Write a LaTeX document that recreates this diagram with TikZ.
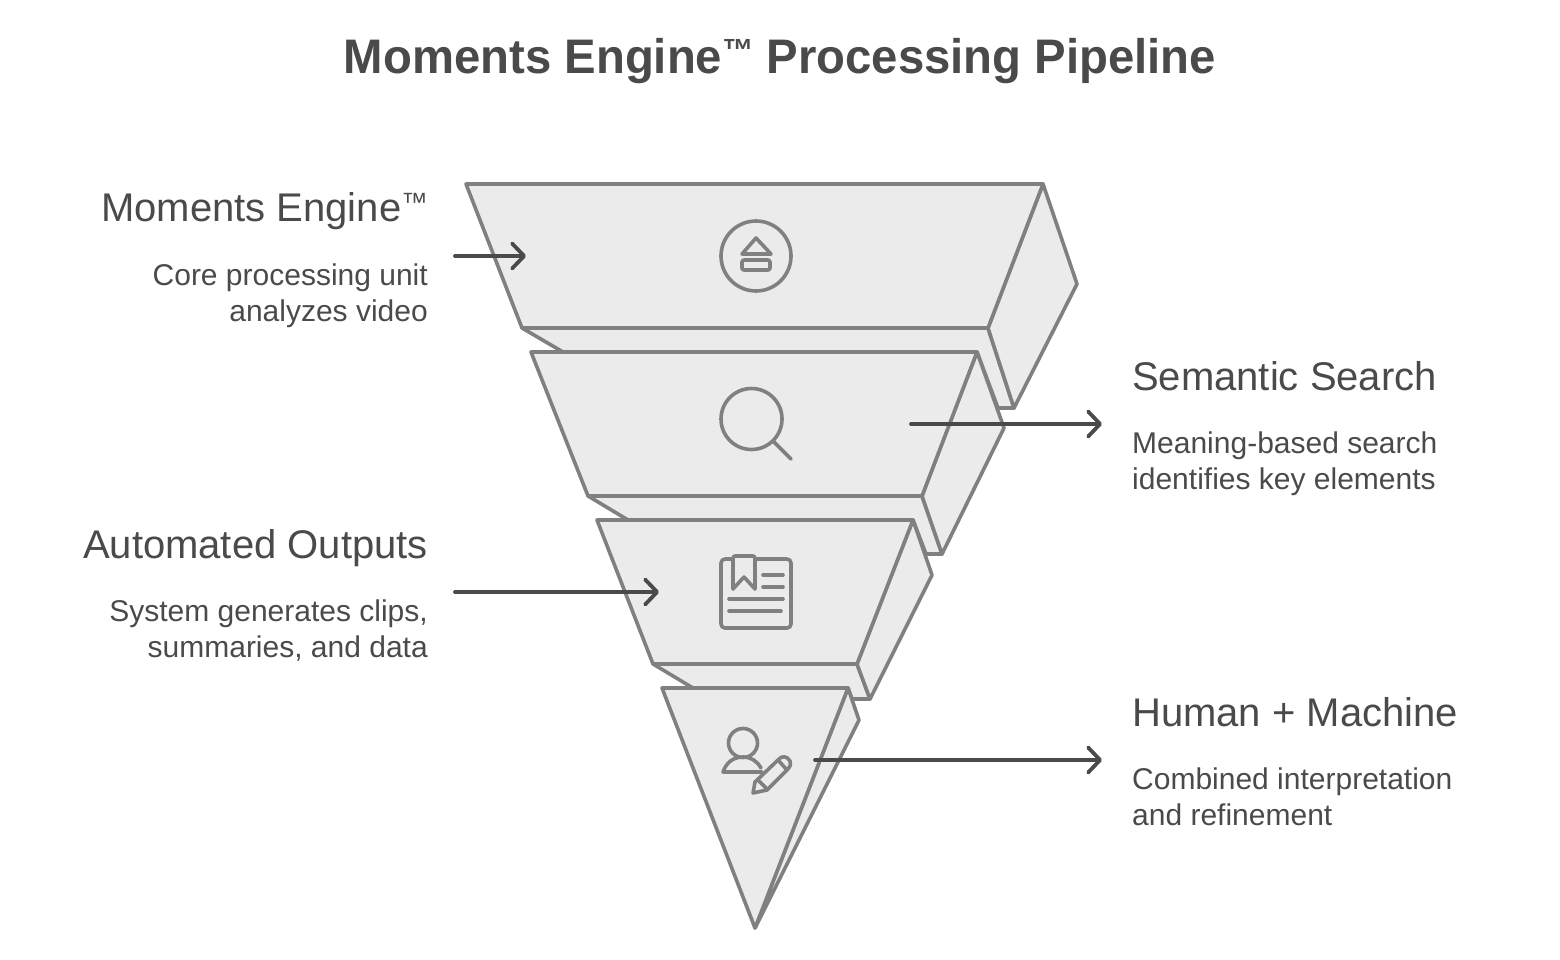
\documentclass[tikz,border=0pt]{standalone}
\usepackage{fontspec}
\setmainfont[BoldFeatures={FakeStretch=0.975}]{Liberation Sans}
\usetikzlibrary{positioning,arrows.meta}
\definecolor{edgegray}{HTML}{808080}
\definecolor{facegray}{HTML}{EBEBEB}
\definecolor{inkgray}{HTML}{4A4A4A}
\newcommand{\tmark}{\raisebox{0.25em}{\scalebox{0.66}{™}}}
\tikzset{band/.style={draw=edgegray,fill=facegray,line width=3.6pt,line join=round},
	icon/.style={draw=edgegray,line width=3.6pt,line cap=round,line join=round},
	pointer/.style={draw=inkgray,line width=3.8pt,line cap=round,
		-{Straight Barb[round,length=12pt,width=25pt]}},
	title text/.style={text=inkgray,inner sep=0pt,font=\bfseries\fontsize{48.5}{56}\selectfont},
	head text/.style={text=inkgray,inner sep=0pt,font=\fontsize{40}{46}\selectfont},
	body text/.style={text=inkgray,inner sep=0pt,font=\fontsize{30}{36}\selectfont},
}

\begin{document}
\begin{tikzpicture}[x=1pt,y=-1pt]
		\useasboundingbox (0,0) rectangle (1560,960);

		% first layer
		\path[band] (522,328) -- (988,328) -- (1014,408) -- (998,408) -- (977,352) -- (563,352) -- cycle;
		\path[band] (1043,184) -- (1077,284) -- (1014,408) -- (988,328) -- cycle;
		\path[band] (466,184) -- (1043,184) -- (988,328) -- (522,328) -- cycle;
		% second layer
		\path[band] (588,496) -- (922,496) -- (942,554) -- (926,554) -- (913,520) -- (628,520) -- cycle;
		\path[band] (977,352) -- (1004,428) -- (942,554) -- (922,496) -- cycle;
		\path[band] (531,352) -- (977,352) -- (922,496) -- (588,496) -- cycle;
		% third layer
		\path[band] (653,664) -- (857,664) -- (870,699) -- (852,699) -- (848,688) -- (693,688) -- cycle;
		\path[band] (913,520) -- (932,575) -- (870,699) -- (857,664) -- cycle;
		\path[band] (597,520) -- (913,520) -- (857,664) -- (653,664) -- cycle;
		% last layer
		\path[band] (848,688) -- (859,720) -- (755,928) -- cycle;
		\path[band] (662,688) -- (848,688) -- (755,928) -- cycle;

		% eject icon
		\draw[icon] (756,256) circle (35);
		\draw[icon] (756,238) -- (771,254) -- (742,254) -- cycle;
		\draw[icon,rounded corners=2pt] (742,260) rectangle (770,270);
		% search icon
		\draw[icon] (751.5,419) circle (30.5);
		\draw[icon] (774,442) -- (791,459);
		% document icon
		\draw[icon,rounded corners=4pt] (733,559) -- (721,559) -- (721,628) -- (791,628) -- (791,559) -- (755,559);
		\draw[icon,rounded corners=2pt] (733,589) -- (733,556) -- (755,556) -- (755,589);
		\draw[icon] (733,589) -- (744,577) -- (755,589);
		\draw[icon] (763,575) -- (783,575);
		\draw[icon] (763,587) -- (783,587);
		\draw[icon] (729,599) -- (783,599);
		\draw[icon] (729,611) -- (781,611);
		% person icon
		\draw[icon] (743,743) circle (14.5);
		\draw[icon] (762,772) -- (723,772) .. controls (726,763) and (733,757) .. (743,757) .. controls (751,757) and (757,761) .. (761,768);
		\draw[icon] (755,782) -- (778,760) .. controls (782,755) and (787,756) .. (790,761) .. controls (791,765) and (790,767) .. (788,769) -- (767,790) -- (753,793) -- cycle;
		\draw[icon] (778,760) -- (787,770);
		\draw[icon] (758,780) -- (766,788);

		\coordinate (a1) at (455,256);
		\coordinate (b1) at (526,256);
		\coordinate (a2) at (911,424);
		\coordinate (b2) at (1102,424);
		\coordinate (a3) at (455,592);
		\coordinate (b3) at (659,592);
		\coordinate (a4) at (815,760);
		\coordinate (b4) at (1102,760);

		\path
			(a1) edge[pointer] (b1)
			(a2) edge[pointer] (b2)
			(a3) edge[pointer] (b3)
			(a4) edge[pointer] (b4);

		\node[title text,anchor=base] (title) at (780,74) {Moments Engine\tmark\ Processing Pipeline};

		\node[head text,anchor=base east] (h1) at (428,222) {Moments Engine\tmark};
		\node[body text,align=right,anchor=base east] (t1) at (428,321) {Core processing unit\\analyzes video};
		\node[head text,anchor=base west] (h2) at (1132,390) {Semantic Search};
		\node[body text,align=left,anchor=base west] (t2) at (1132,489) {Meaning-based search\\identifies key elements};
		\node[head text,anchor=base east] (h3) at (428,558) {Automated Outputs};
		\node[body text,align=right,anchor=base east] (t3) at (428,657) {System generates clips,\\summaries, and data};
		\node[head text,anchor=base west] (h4) at (1132,726) {Human + Machine};
		\node[body text,align=left,anchor=base west] (t4) at (1132,825) {Combined interpretation\\and refinement};
	\end{tikzpicture}
\end{document}
